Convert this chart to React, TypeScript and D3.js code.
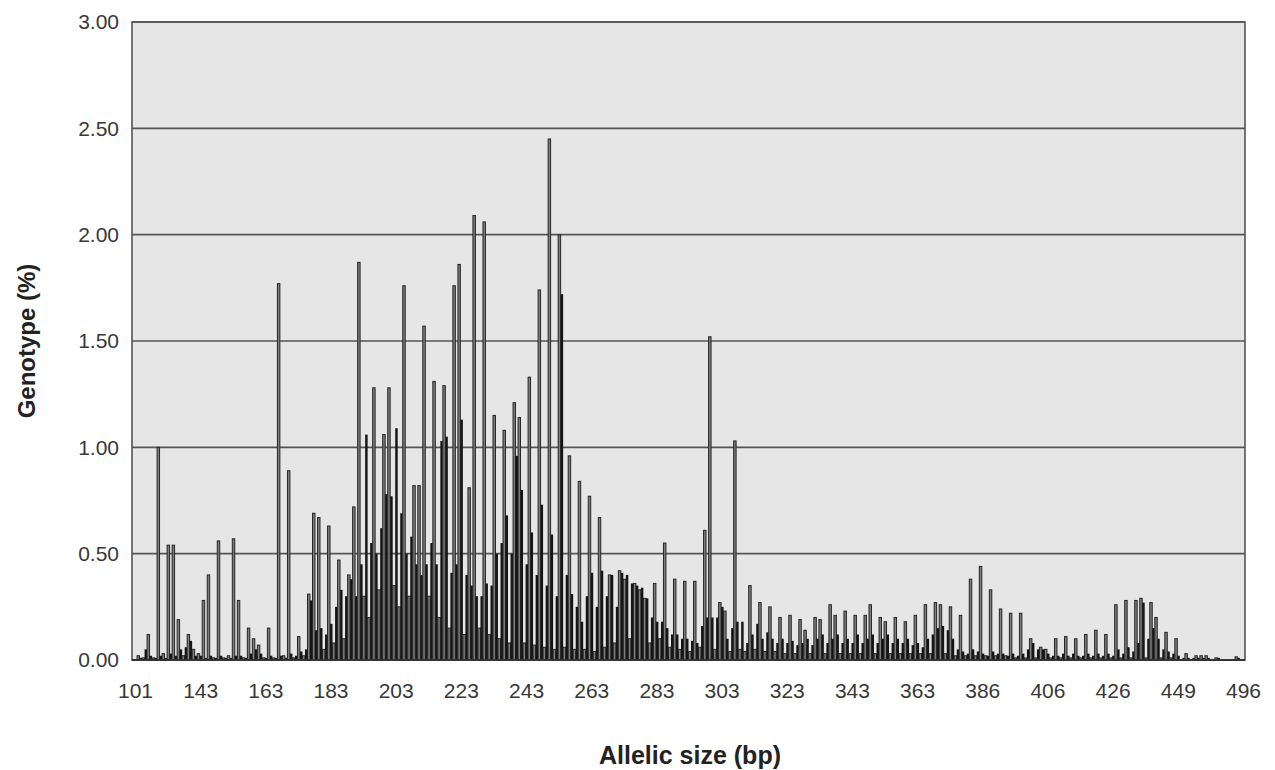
import * as d3 from "d3";

// allelic size categories: one label every 13 categories
const xTickLabels = ["101", "143", "163", "183", "203", "223", "243", "263", "283", "303", "323", "343", "363", "386", "406", "426", "449", "496"];
const labelEvery = 13;
const yTicks = [0, 0.5, 1, 1.5, 2, 2.5, 3];

// genotype % per allele, grey series
const greySeries = [
  0.00, 0.02, 0.01, 0.12, 0.01, 1.00, 0.03, 0.54, 0.54, 0.19,
  0.02, 0.12, 0.05, 0.03, 0.28, 0.40, 0.01, 0.56, 0.01, 0.02,
  0.57, 0.28, 0.01, 0.15, 0.10, 0.07, 0.01, 0.15, 0.01, 1.77,
  0.02, 0.89, 0.01, 0.11, 0.02, 0.31, 0.69, 0.67, 0.05, 0.63,
  0.08, 0.47, 0.10, 0.40, 0.72, 1.87, 0.30, 0.20, 1.28, 0.33,
  1.06, 1.28, 0.35, 0.25, 1.76, 0.30, 0.82, 0.82, 1.57, 0.30,
  1.31, 0.20, 1.29, 0.15, 1.76, 1.86, 0.12, 0.81, 2.09, 0.15,
  2.06, 0.12, 1.15, 0.10, 1.08, 0.08, 1.21, 1.14, 0.08, 1.33,
  0.07, 1.74, 0.06, 2.45, 0.05, 2.00, 0.06, 0.96, 0.05, 0.84,
  0.05, 0.77, 0.04, 0.67, 0.06, 0.40, 0.08, 0.42, 0.38, 0.10,
  0.36, 0.33, 0.29, 0.08, 0.36, 0.10, 0.55, 0.06, 0.38, 0.05,
  0.37, 0.04, 0.37, 0.06, 0.61, 1.52, 0.05, 0.27, 0.23, 0.04,
  1.03, 0.05, 0.04, 0.35, 0.05, 0.27, 0.04, 0.25, 0.04, 0.20,
  0.03, 0.21, 0.03, 0.19, 0.14, 0.03, 0.20, 0.19, 0.03, 0.26,
  0.21, 0.03, 0.23, 0.03, 0.21, 0.03, 0.21, 0.26, 0.03, 0.20,
  0.18, 0.03, 0.20, 0.03, 0.18, 0.03, 0.21, 0.03, 0.26, 0.03,
  0.27, 0.26, 0.03, 0.25, 0.02, 0.21, 0.02, 0.38, 0.02, 0.44,
  0.02, 0.33, 0.02, 0.24, 0.02, 0.22, 0.01, 0.22, 0.01, 0.10,
  0.01, 0.06, 0.05, 0.01, 0.10, 0.01, 0.11, 0.01, 0.10, 0.01,
  0.12, 0.01, 0.14, 0.01, 0.12, 0.01, 0.26, 0.01, 0.28, 0.01,
  0.28, 0.29, 0.01, 0.27, 0.20, 0.01, 0.13, 0.01, 0.10, 0.00,
  0.03, 0.00, 0.02, 0.02, 0.02, 0.00, 0.01, 0.00, 0.00, 0.00,
  0.015, 0.00,
];

// genotype % per allele, black series
const blackSeries = [
  0.00, 0.01, 0.05, 0.02, 0.01, 0.02, 0.01, 0.03, 0.02, 0.05,
  0.06, 0.09, 0.02, 0.02, 0.01, 0.02, 0.01, 0.02, 0.01, 0.01,
  0.02, 0.02, 0.01, 0.03, 0.05, 0.03, 0.01, 0.02, 0.01, 0.02,
  0.01, 0.03, 0.02, 0.04, 0.05, 0.28, 0.14, 0.15, 0.12, 0.17,
  0.25, 0.33, 0.30, 0.38, 0.30, 0.45, 1.06, 0.55, 0.50, 0.62,
  0.78, 0.77, 1.09, 0.69, 0.50, 0.58, 0.45, 0.40, 0.45, 0.55,
  0.45, 1.03, 1.05, 0.41, 0.45, 1.13, 0.40, 0.35, 0.30, 0.30,
  0.36, 0.35, 0.50, 0.55, 0.68, 0.50, 0.96, 0.80, 0.45, 0.60,
  0.40, 0.73, 0.35, 0.59, 0.30, 1.72, 0.40, 0.31, 0.25, 0.18,
  0.30, 0.41, 0.25, 0.42, 0.30, 0.40, 0.25, 0.41, 0.40, 0.36,
  0.35, 0.34, 0.29, 0.20, 0.18, 0.18, 0.15, 0.12, 0.12, 0.10,
  0.10, 0.09, 0.08, 0.16, 0.20, 0.20, 0.20, 0.25, 0.10, 0.15,
  0.18, 0.18, 0.08, 0.12, 0.17, 0.10, 0.13, 0.10, 0.08, 0.10,
  0.08, 0.09, 0.07, 0.08, 0.10, 0.07, 0.10, 0.12, 0.08, 0.10,
  0.12, 0.08, 0.10, 0.08, 0.12, 0.08, 0.10, 0.12, 0.08, 0.10,
  0.12, 0.08, 0.10, 0.08, 0.10, 0.07, 0.08, 0.06, 0.10, 0.12,
  0.15, 0.16, 0.14, 0.10, 0.05, 0.04, 0.03, 0.05, 0.04, 0.03,
  0.02, 0.04, 0.03, 0.03, 0.02, 0.03, 0.02, 0.03, 0.05, 0.08,
  0.05, 0.05, 0.03, 0.02, 0.02, 0.03, 0.02, 0.03, 0.02, 0.02,
  0.03, 0.02, 0.03, 0.02, 0.03, 0.02, 0.05, 0.03, 0.06, 0.04,
  0.08, 0.27, 0.10, 0.15, 0.10, 0.05, 0.04, 0.03, 0.02, 0.01,
  0.01, 0.01, 0.01, 0.01, 0.01, 0.00, 0.01, 0.00, 0.00, 0.00,
  0.01, 0.00,
];

const width = 1275;
const height = 770;
const margin = { left: 132, right: 30, top: 22, bottom: 110 };
const font = "'Liberation Sans', Arial, Helvetica, sans-serif";

export default function App() {
  const categories = d3.range(greySeries.length);

  const x = d3
    .scaleBand<number>()
    .domain(categories)
    .range([margin.left, width - margin.right])
    .paddingInner(0)
    .paddingOuter(0);

  const inner = d3
    .scaleBand<string>()
    .domain(["grey", "black"])
    .range([0, x.bandwidth()])
    .paddingInner(0.02)
    .paddingOuter(0.01);

  const y = d3.scaleLinear().domain([0, 3]).range([height - margin.bottom, margin.top]);
  const fmt = d3.format(".2f");

  const plotW = width - margin.left - margin.right;
  const plotH = height - margin.top - margin.bottom;

  const tickIdx = xTickLabels.map((_, i) => i * labelEvery);

  return (
    <svg
      width={width}
      height={height}
      style={{ position: "absolute", left: 0, top: 0, background: "#fff" }}
    >
      <rect x={margin.left} y={margin.top} width={plotW} height={plotH} fill="#e6e6e6" />

      {/* gridlines */}
      {yTicks.map((t) => (
        <line
          key={t}
          x1={margin.left}
          x2={width - margin.right}
          y1={y(t)}
          y2={y(t)}
          stroke="#555"
          strokeWidth={1.6}
        />
      ))}

      {/* bars */}
      {categories.map((c) => {
        const x0 = x(c)!;
        const g = greySeries[c];
        const b = blackSeries[c];
        return (
          <g key={c}>
            {g > 0 && (
              <rect
                x={x0 + inner("grey")!}
                y={y(g)}
                width={inner.bandwidth()}
                height={y(0) - y(g)}
                fill="#7d7d7d"
                stroke="#262626"
                strokeWidth={1}
              />
            )}
            {b > 0 && (
              <rect
                x={x0 + inner("black")!}
                y={y(b)}
                width={inner.bandwidth()}
                height={y(0) - y(b)}
                fill="#151515"
              />
            )}
          </g>
        );
      })}

      {/* frame */}
      <rect
        x={margin.left}
        y={margin.top}
        width={plotW}
        height={plotH}
        fill="none"
        stroke="#555"
        strokeWidth={1.6}
      />
      <line x1={margin.left} x2={width - margin.right} y1={y(0)} y2={y(0)} stroke="#333" strokeWidth={2} />

      {/* y tick labels */}
      {yTicks.map((t) => (
        <text
          key={t}
          x={margin.left - 13}
          y={y(t)}
          dy="0.35em"
          textAnchor="end"
          fontFamily={font}
          fontSize={21}
          fill="#383838"
        >
          {fmt(t)}
        </text>
      ))}

      {/* x tick labels */}
      {tickIdx.map((ci, i) => (
        <text
          key={ci}
          x={x(ci)! + x.bandwidth() / 2 + 1}
          y={y(0) + 38}
          textAnchor="middle"
          fontFamily={font}
          fontSize={21}
          fill="#383838"
        >
          {xTickLabels[i]}
        </text>
      ))}

      <text
        x={690}
        y={764}
        textAnchor="middle"
        fontFamily={font}
        fontSize={25}
        fontWeight="bold"
        fill="#222"
      >
        Allelic size (bp)
      </text>
      <text
        transform={`translate(35, ${margin.top + plotH / 2}) rotate(-90)`}
        textAnchor="middle"
        fontFamily={font}
        fontSize={24}
        fontWeight="bold"
        fill="#222"
      >
        Genotype (%)
      </text>
    </svg>
  );
}
